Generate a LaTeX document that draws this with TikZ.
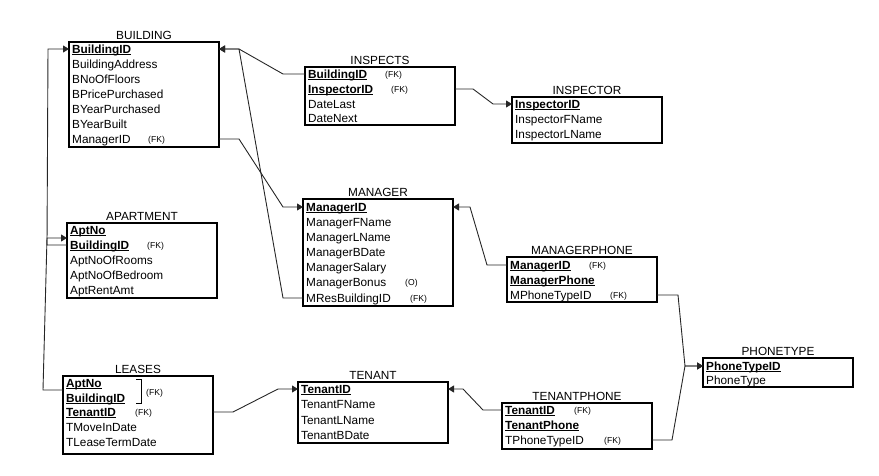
\documentclass[tikz,border=0pt]{standalone}
\usepackage{fontspec}
\setmainfont{Liberation Sans}
\usetikzlibrary{arrows.meta}
% bold key attribute with a tight underline just below the baseline
\newcommand\pkey[1]{\textbf{\setbox0\hbox{#1}\rlap{\rule[-1.9pt]{\wd0}{1pt}}\box0}}
\begin{document}
\begin{tikzpicture}[x=1pt,y=-1pt,
  entity/.style={draw=black, line width=1.1pt, anchor=north west, minimum width=150pt, inner sep=0pt, outer sep=0pt},
  ttl/.style={anchor=base, font=\fontsize{11.8}{13}\selectfont, inner sep=0pt},
  attr/.style={anchor=west, font=\fontsize{11.8}{13}\selectfont, inner sep=0pt, text height=8.6pt, text depth=0pt},
  note/.style={anchor=west, font=\fontsize{8.6}{10}\selectfont, inner sep=0pt, text height=6.2pt, text depth=0pt},
  link/.style={draw=black!85, line width=0.9pt},
  ref/.style={link, -{Triangle[length=6pt,width=7pt]}},
]
\useasboundingbox (0,0) rectangle (879,476);

% ---------- BUILDING ----------
\node[entity, minimum height=105pt] (building) at (69,42) {};
\node[ttl] (building-t) at ([yshift=2.5pt]building.north) {BUILDING};
\node[attr] (b1) at (72,49)  {\pkey{BuildingID}};
\node[attr] (b2) at (72,64)  {BuildingAddress};
\node[attr] (b3) at (72,79)  {BNoOfFloors};
\node[attr] (b4) at (72,94)  {BPricePurchased};
\node[attr] (b5) at (72,109) {BYearPurchased};
\node[attr] (b6) at (72,124) {BYearBuilt};
\node[attr] (b7) at (72,139) {ManagerID};
\node[note] (b7n) at (148,139) {(FK)};

% ---------- INSPECTS ----------
\node[entity, minimum height=58pt] (inspects) at (305,67) {};
\node[ttl] (inspects-t) at ([yshift=2.5pt]inspects.north) {INSPECTS};
\node[attr] (s1) at (308,74)  {\pkey{BuildingID}};
\node[attr] (s2) at (308,89)  {\pkey{InspectorID}};
\node[attr] (s3) at (308,104) {DateLast};
\node[attr] (s4) at (308,118) {DateNext};
\node[note] (s1n) at (385,74) {(FK)};
\node[note] (s2n) at (391,89) {(FK)};

% ---------- INSPECTOR ----------
\node[entity, minimum height=46pt] (inspector) at (512,97) {};
\node[ttl] (inspector-t) at ([yshift=2.5pt]inspector.north) {INSPECTOR};
\node[attr] (i1) at (515,104) {\pkey{InspectorID}};
\node[attr] (i2) at (515,119) {InspectorFName};
\node[attr] (i3) at (515,134) {InspectorLName};

% ---------- APARTMENT ----------
\node[entity, minimum height=75pt] (apartment) at (67,223) {};
\node[ttl] (apartment-t) at ([yshift=2.5pt]apartment.north) {APARTMENT};
\node[attr] (a1) at (70,230) {\pkey{AptNo}};
\node[attr] (a2) at (70,245) {\pkey{BuildingID}};
\node[attr] (a3) at (70,260) {AptNoOfRooms};
\node[attr] (a4) at (70,275) {AptNoOfBedroom};
\node[attr] (a5) at (70,290) {AptRentAmt};
\node[note] (a2n) at (147,245) {(FK)};

% ---------- MANAGER ----------
\node[entity, minimum height=107pt] (manager) at (303,199) {};
\node[ttl] (manager-t) at ([yshift=2.5pt]manager.north) {MANAGER};
\node[attr] (m1) at (306,207) {\pkey{ManagerID}};
\node[attr] (m2) at (306,222) {ManagerFName};
\node[attr] (m3) at (306,237) {ManagerLName};
\node[attr] (m4) at (306,252) {ManagerBDate};
\node[attr] (m5) at (306,267) {ManagerSalary};
\node[attr] (m6) at (306,282) {ManagerBonus};
\node[attr] (m7) at (306,298) {MResBuildingID};
\node[note] (m6n) at (405,282) {(O)};
\node[note] (m7n) at (410,298) {(FK)};

% ---------- MANAGERPHONE ----------
\node[entity, minimum height=45pt] (mphone) at (507,257) {};
\node[ttl] (mphone-t) at ([yshift=2.5pt]mphone.north) {MANAGERPHONE};
\node[attr] (mp1) at (510,265) {\pkey{ManagerID}};
\node[attr] (mp2) at (510,280) {\pkey{ManagerPhone}};
\node[attr] (mp3) at (510,295) {MPhoneTypeID};
\node[note] (mp1n) at (589,265) {(FK)};
\node[note] (mp3n) at (610,295) {(FK)};

% ---------- PHONETYPE ----------
\node[entity, minimum height=29pt] (phonetype) at (703,358) {};
\node[ttl] (phonetype-t) at ([yshift=2.5pt]phonetype.north) {PHONETYPE};
\node[attr] (p1) at (706,366) {\pkey{PhoneTypeID}};
\node[attr] (p2) at (706,380) {PhoneType};

% ---------- LEASES ----------
\node[entity, minimum height=78pt] (leases) at (63,376) {};
\node[ttl] (leases-t) at ([yshift=2.5pt]leases.north) {LEASES};
\node[attr] (l1) at (66,383) {\pkey{AptNo}};
\node[attr] (l2) at (66,398) {\pkey{BuildingID}};
\node[attr] (l3) at (66,412) {\pkey{TenantID}};
\node[attr] (l4) at (66,427) {TMoveInDate};
\node[attr] (l5) at (66,442) {TLeaseTermDate};
\draw[line width=0.9pt] (136,379) -- (141,379) -- (141,403) -- (136,403);
\node[note] (l12n) at (146,392) {(FK)};
\node[note] (l3n) at (135,412) {(FK)};

% ---------- TENANT ----------
\node[entity, minimum height=61pt] (tenant) at (298,382) {};
\node[ttl] (tenant-t) at ([yshift=2.5pt]tenant.north) {TENANT};
\node[attr] (t1) at (301,389) {\pkey{TenantID}};
\node[attr] (t2) at (301,404) {TenantFName};
\node[attr] (t3) at (301,420) {TenantLName};
\node[attr] (t4) at (301,435) {TenantBDate};

% ---------- TENANTPHONE ----------
\node[entity, minimum height=46pt] (tphone) at (502,403) {};
\node[ttl] (tphone-t) at ([yshift=2.5pt]tphone.north) {TENANTPHONE};
\node[attr] (tp1) at (505,410) {\pkey{TenantID}};
\node[attr] (tp2) at (505,425) {\pkey{TenantPhone}};
\node[attr] (tp3) at (505,440) {TPhoneTypeID};
\node[note] (tp1n) at (574,410) {(FK)};
\node[note] (tp3n) at (604,440) {(FK)};

% ---------- relationships ----------
% APARTMENT.BuildingID -> BUILDING
\draw[ref] (apartment.west |- a2) -- ++(-20,0) -- ([xshift=-21pt]building.west |- b1) -- (building.west |- b1);
% LEASES (AptNo, BuildingID) -> APARTMENT
\draw[ref] (leases.west |- 0,390) -- ++(-20,0) -- ([xshift=-20pt]apartment.west |- 0,238) -- (apartment.west |- 0,238);
% INSPECTS.BuildingID -> BUILDING
\draw[ref] (inspects.west |- s1) -- ++(-22,0) -- ([xshift=20pt]building.east |- b1) -- (building.east |- b1);
% MANAGER.MResBuildingID -> BUILDING
\draw[ref] (manager.west |- m7) -- ++(-20,0) -- ([xshift=20pt]building.east |- b1) -- (building.east |- b1);
% BUILDING.ManagerID -> MANAGER
\draw[ref] (building.east |- b7) -- ++(20,0) -- ([xshift=-20pt]manager.west |- m1) -- (manager.west |- m1);
% INSPECTS.InspectorID -> INSPECTOR
\draw[ref] (inspects.east |- s2) -- ++(18,0) -- ([xshift=-19pt]inspector.west |- i1) -- (inspector.west |- i1);
% MANAGERPHONE.ManagerID -> MANAGER
\draw[ref] (mphone.west |- mp1) -- ++(-20,0) -- ([xshift=17pt]manager.east |- m1) -- (manager.east |- m1);
% MANAGERPHONE.MPhoneTypeID -> PHONETYPE
\draw[ref] (mphone.east |- mp3) -- ++(21,0) -- ([xshift=-18pt]phonetype.west |- p1) -- (phonetype.west |- p1);
% TENANTPHONE.TPhoneTypeID -> PHONETYPE
\draw[ref] (tphone.east |- tp3) -- ++(20,0) -- ([xshift=-18pt]phonetype.west |- p1) -- (phonetype.west |- p1);
% TENANTPHONE.TenantID -> TENANT
\draw[ref] (tphone.west |- tp1) -- ++(-19,0) -- ([xshift=15pt]tenant.east |- t1) -- (tenant.east |- t1);
% LEASES.TenantID -> TENANT
\draw[ref] (leases.east |- l3) -- ++(20,0) -- ([xshift=-20pt]tenant.west |- t1) -- (tenant.west |- t1);
\end{tikzpicture}
\end{document}
